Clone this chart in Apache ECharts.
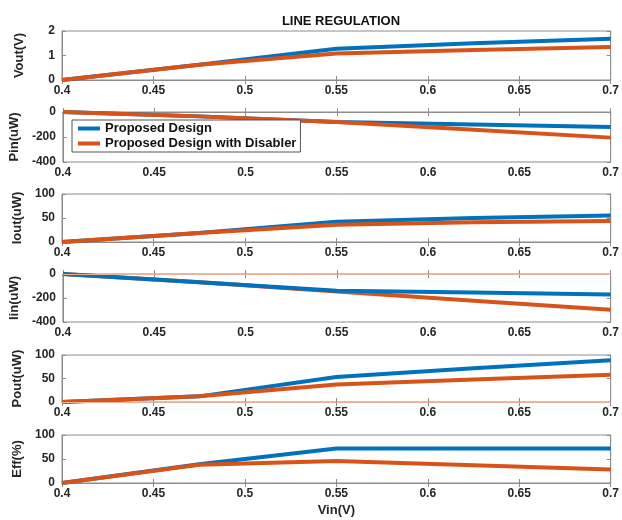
<!DOCTYPE html>
<html>
<head>
<meta charset="utf-8">
<script src="https://cdn.jsdelivr.net/npm/echarts@6/dist/echarts.min.js"></script>
<style>
  html, body { margin: 0; padding: 0; background: #fff; }
  #chart { width: 622px; height: 520px; }
</style>
</head>
<body>
<div id="chart"></div>
<script>
// Input voltage sweep (V)
const vin = [0.4, 0.475, 0.55, 0.625, 0.7];

// Output voltage (V)
const voutPD  = [0, 0.62, 1.28, 1.50, 1.68];
const voutDis = [0, 0.62, 1.08, 1.22, 1.35];
// Input power (uW)
const pinPD  = [0, -35, -80, -100, -120];
const pinDis = [0, -35, -80, -142, -205];
// Output current
const ioutPD  = [0, 19, 42, 50, 55];
const ioutDis = [0, 19, 36, 41, 44];
// Input current
const iinPD  = [0, -68, -140, -155, -170];
const iinDis = [0, -68, -145, -222, -298];
// Output power (uW)
const poutPD  = [0, 12, 53, 72, 89];
const poutDis = [0, 12, 37, 48, 58];
// Efficiency (%)
const effPD  = [0, 39, 72, 72, 72];
const effDis = [0, 38, 46, 37, 28];

const seriesNames = ['Proposed Design', 'Proposed Design with Disabler'];
const xTicks = { min: 0.4, max: 0.7, interval: 0.05 };

const panels = [
  { label: 'Vout(V)',  min: 0,    max: 2,   step: 1,   a: voutPD, b: voutDis },
  { label: 'Pin(uW)',  min: -400, max: 0,   step: 200, a: pinPD,  b: pinDis },
  { label: 'Iout(uW)', min: 0,    max: 100, step: 50,  a: ioutPD, b: ioutDis },
  { label: 'Iin(uW)',  min: -400, max: 0,   step: 200, a: iinPD,  b: iinDis, zeroLine: true, blueTop: true },
  { label: 'Pout(uW)', min: 0,    max: 100, step: 50,  a: poutPD, b: poutDis, zeroLine: true },
  { label: 'Eff(%)',   min: 0,    max: 100, step: 50,  a: effPD,  b: effDis }
];

const layout = [
  { top: 31,  height: 49 },
  { top: 112, height: 50 },
  { top: 194, height: 48 },
  { top: 274, height: 48 },
  { top: 355, height: 47 },
  { top: 435, height: 48 }
];

const BLUE = '#0072BD';
const ORANGE = '#D95319';
const AXIS = '#8c8c8c';
const FONT = '"Liberation Sans", Arial, sans-serif';
const label = { color: '#262626', fontFamily: FONT, fontWeight: 'bold', fontSize: 12 };

const fmtX = v => String(Math.round(v * 1000) / 1000);

const grid = [], xAxis = [], yAxis = [], series = [];

panels.forEach((p, i) => {
  grid.push({
    left: 62, right: 11, top: layout[i].top, height: layout[i].height,
    show: true, borderColor: AXIS, borderWidth: 1, backgroundColor: '#fff'
  });
  const last = i === panels.length - 1;
  // bottom x axis with labels
  xAxis.push({
    type: 'value', gridIndex: i, position: 'bottom', ...xTicks,
    axisLine: { show: true, lineStyle: { color: AXIS } },
    axisTick: { show: true, inside: true, length: 4, lineStyle: { color: AXIS } },
    splitLine: { show: false },
    axisLabel: { ...label, margin: 5, formatter: fmtX, showMinLabel: true, showMaxLabel: true },
    name: last ? 'Vin(V)' : '',
    nameLocation: 'middle', nameGap: 21,
    nameTextStyle: { color: '#262626', fontFamily: FONT, fontWeight: 'bold', fontSize: 13 }
  });
  // top x axis: ticks only
  xAxis.push({
    type: 'value', gridIndex: i, position: 'top', ...xTicks,
    axisLine: { show: true, lineStyle: { color: AXIS } },
    axisTick: { show: true, inside: true, length: 4, lineStyle: { color: AXIS } },
    splitLine: { show: false }, axisLabel: { show: false }
  });
  // left y axis with labels
  yAxis.push({
    type: 'value', gridIndex: i, position: 'left',
    min: p.min, max: p.max, interval: p.step,
    axisLine: { show: true, lineStyle: { color: AXIS } },
    axisTick: { show: true, inside: true, length: 4, lineStyle: { color: AXIS } },
    splitLine: { show: false },
    axisLabel: { ...label, margin: 7 },
    name: p.label, nameLocation: 'middle', nameRotate: 90, nameGap: 36,
    nameTextStyle: { color: '#262626', fontFamily: FONT, fontWeight: 'bold', fontSize: 13 }
  });
  // right y axis: ticks only
  yAxis.push({
    type: 'value', gridIndex: i, position: 'right',
    min: p.min, max: p.max, interval: p.step,
    axisLine: { show: true, lineStyle: { color: AXIS } },
    axisTick: { show: true, inside: true, length: 4, lineStyle: { color: AXIS } },
    splitLine: { show: false }, axisLabel: { show: false }
  });

  const pairs = arr => vin.map((x, k) => [x, arr[k]]);
  const base = {
    type: 'line', xAxisIndex: 2 * i, yAxisIndex: 2 * i,
    symbol: 'none', smooth: false, animation: false
  };
  series.push({
    ...base, name: seriesNames[0], data: pairs(p.a),
    z: p.blueTop ? 4 : 2,
    lineStyle: { color: BLUE, width: 4 }, itemStyle: { color: BLUE }
  });
  series.push({
    ...base, name: seriesNames[1], data: pairs(p.b),
    z: 3,
    lineStyle: { color: ORANGE, width: 4 }, itemStyle: { color: ORANGE },
    markLine: p.zeroLine ? {
      silent: true, symbol: 'none', label: { show: false },
      lineStyle: { color: '#eab196', width: 1, type: 'solid' },
      data: [{ yAxis: 0 }]
    } : undefined
  });
});

const chart = echarts.init(document.getElementById('chart'), null, { renderer: 'canvas' });
chart.setOption({
  backgroundColor: '#fff',
  animation: false,
  title: {
    text: 'LINE REGULATION', left: 336, top: 10, textAlign: 'center',
    textStyle: { color: '#111', fontFamily: FONT, fontWeight: 'bold', fontSize: 13 }
  },
  legend: {
    data: seriesNames, orient: 'vertical', left: 72, top: 120,
    backgroundColor: '#fff', borderColor: '#555', borderWidth: 1,
    padding: [2, 4, 2, 6], itemGap: 2, itemWidth: 22, itemHeight: 4,
    icon: 'rect',
    textStyle: { color: '#111', fontFamily: FONT, fontWeight: 'bold', fontSize: 13 }
  },
  grid, xAxis, yAxis, series
});
</script>
</body>
</html>
